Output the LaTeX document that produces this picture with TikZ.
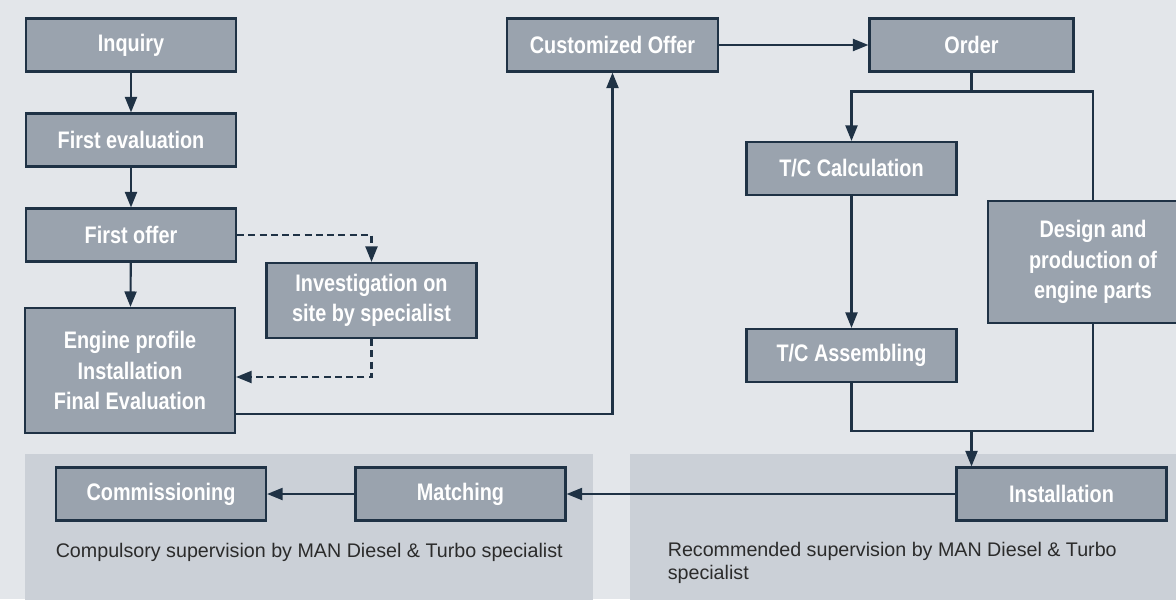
\documentclass[tikz,border=0pt]{standalone}
\usepackage{fontspec}
\setmainfont{Liberation Sans}
\newfontfamily\condfont[FakeStretch=0.83]{Liberation Sans}
\usetikzlibrary{calc,arrows.meta}
\definecolor{bg}{HTML}{E3E6EA}
\definecolor{panel}{HTML}{CBD0D7}
\definecolor{boxfill}{HTML}{9AA3AE}
\definecolor{navy}{HTML}{1F3245}
\definecolor{notetext}{HTML}{2B2B2B}
\tikzset{
  procbox/.style={draw=navy, fill=boxfill, line width=1.5pt, text=white,
    font=\condfont\bfseries\fontsize{17}{21.5}\selectfont, align=center,
    minimum width=5.25cm, minimum height=1.325cm, inner sep=0pt},
  plainline/.style={draw=navy, line width=1.5pt},
  flowline/.style={plainline, -{Triangle[length=11pt, width=8.5pt]}},
  dashflow/.style={flowline, dash pattern=on 5pt off 3pt},
  note/.style={text=notetext, font=\fontsize{14}{16.5}\selectfont, anchor=west, align=left, inner sep=0pt},
}
\begin{document}
\begin{tikzpicture}[x=0.025cm, y=-0.025cm]
  \useasboundingbox (0,0) rectangle (1176,599);
  \clip (0,0) rectangle (1176,599);
  \fill[bg] (0,0) rectangle (1176,599);
  \fill[panel] (25,454) rectangle (593,605);
  \fill[panel] (630,454) rectangle (1180,605);

  % left column
  \node[procbox] (inq) at (131,45) {Inquiry};
  \node[procbox] (feval) at (131,140) {First evaluation};
  \node[procbox] (foffer) at (131,235) {First offer};
  \node[procbox, minimum height=3.125cm] (engine) at (130,370.5) {Engine profile\\Installation\\Final Evaluation};
  \node[procbox, minimum height=1.875cm] (invest) at (371.5,300.5) {Investigation on\\site by specialist};

  % right part
  \node[procbox, minimum width=5.275cm] (custom) at (612.5,45) {Customized Offer};
  \node[procbox, minimum width=5.1cm] (order) at (971.5,45) {Order};
  \node[procbox] (tccalc) at (851.5,168.5) {T/C Calculation};
  \node[procbox] (tcass) at (851.5,355.5) {T/C Assembling};
  \node[procbox, minimum height=3.05cm] (design) at (1093,262) {Design and\\production of\\engine parts};
  \coordinate (split) at (971.5,91.5);
  \coordinate (merge) at (971.5,431);

  % bottom row
  \node[procbox] (install) at (1061.5,494) {Installation};
  \node[procbox] (match) at (460.5,494) {Matching};
  \node[procbox] (commis) at (161,494) {Commissioning};
  \node[note] (comptext) at (55.5,552) {Compulsory supervision by MAN Diesel \& Turbo specialist};
  \node[note] (rectext) at (667.5,563) {Recommended supervision by MAN Diesel \& Turbo\\specialist};

  \draw[flowline] (inq) -- (feval);
  \draw[flowline] (feval) -- (foffer);
  \draw[flowline] (foffer) -- (engine);
  \draw[dashflow] (foffer.east) -| (invest.north);
  \draw[dashflow] (invest.south) |- ($(engine.east)+(0,6.5)$);
  \draw[flowline] ($(engine.east)+(0,43.5)$) -| (custom.south);
  \draw[flowline] (custom) -- (order);
  \draw[plainline] (order.south) -- (split) -| (design.north);
  \draw[flowline] (split) -| (tccalc.north);
  \draw[flowline] (tccalc) -- (tcass);
  \draw[plainline] (tcass.south) |- (merge) -| (design.south);
  \draw[flowline] (merge) -- (merge |- install.north);
  \draw[flowline] (install) -- (match);
  \draw[flowline] (match) -- (commis);
\end{tikzpicture}
\end{document}
